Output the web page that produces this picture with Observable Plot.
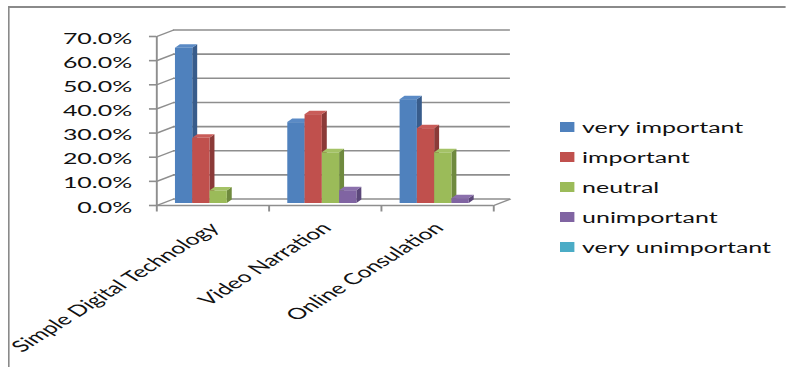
<!DOCTYPE html>
<html>
<head>
<meta charset="utf-8">
<script src="https://cdn.jsdelivr.net/npm/d3@7"></script>
<script src="https://cdn.jsdelivr.net/npm/@observablehq/plot@0.6"></script>
<style>
  html, body { margin: 0; padding: 0; background: #fff; }
  /* the whole drawing is laid out narrow, then widened horizontally */
  #stage { position: absolute; left: 0; top: 0; width: 491.25px; height: 367px;
           transform: scaleX(1.6); transform-origin: 0 0; overflow: hidden; }
  #frame { position: absolute; left: 5.4px; top: 6px; right: -4px; bottom: -4px;
           border-left: 1.5px solid #8a8a8a; border-top: 2px solid #8a8a8a; }
  #chart { position: absolute; left: 0; top: 0; }
  #legend { position: absolute; left: 350px; top: 112px;
            font: 15.6px Lato, sans-serif; color: #111; }
  #legend .item { display: flex; align-items: center; height: 30px; white-space: nowrap; }
  #legend .sw { width: 9.4px; height: 10px; margin-right: 4.4px; flex: none; }
</style>
</head>
<body>
<div id="stage">
  <div id="frame"></div>
  <div id="chart"></div>
  <div id="legend"></div>
</div>
<script>
// Survey answers per service, share of respondents (%)
const categories = ["Simple Digital Technology", "Video Narration", "Online Consulation"];
const series = ["very important", "important", "neutral", "unimportant", "very unimportant"];
const veryImportant   = [64.3, 33.5, 43.0];
const important       = [27.0, 36.8, 31.0];
const neutral         = [5.2, 21.0, 21.0];
const unimportant     = [0, 5.3, 2.0];
const veryUnimportant = [0, 0, 0];
const yTicks = [0, 10, 20, 30, 40, 50, 60, 70];

const frontColors = ["#4F81BD", "#C0504D", "#9BBB59", "#8064A2", "#4BACC6"];
const sideColors  = ["#385C8B", "#8B3A38", "#6F8A3E", "#5B4779", "#33859B"];
const topColors   = ["#5A8AC5", "#C95C59", "#A4C266", "#8B70AC", "#5AB5CD"];

const values = [veryImportant, important, neutral, unimportant, veryUnimportant];

// one row per bar; five slots per category with a 150% gap
const slots = series.length + 1.5;
const bars = [];
categories.forEach((c, ci) => {
  series.forEach((s, si) => {
    const v = values[si][ci];
    if (v > 0) {
      const x1 = ci + (0.75 + si) / slots;
      bars.push({id: `${ci}-${si}`, category: c, series: s, si, value: v, x1, x2: x1 + 1 / slots});
    }
  });
});

// oblique depth of the box walls and of each column (data units)
const depthX = 0.151, depthY = 2.69;
const barDX = 0.044, barDY = 1.45;
const shift = {dx: 3.75, dy: -2};

// side face: parallelogram on the right of each column
const sides = bars.flatMap(b => [
  {id: b.id, si: b.si, x: b.x2, lo: 0, hi: b.value},
  {id: b.id, si: b.si, x: b.x2 + barDX, lo: barDY, hi: b.value + barDY}
]);
// top face: parallelogram above each column
const tops = bars.flatMap(b => [
  {id: b.id, si: b.si, x: b.x1, lo: b.value, hi: b.value},
  {id: b.id, si: b.si, x: b.x1 + barDX, lo: b.value, hi: b.value + barDY},
  {id: b.id, si: b.si, x: b.x2, lo: b.value, hi: b.value + barDY},
  {id: b.id, si: b.si, x: b.x2 + barDX, lo: b.value + barDY, hi: b.value + barDY}
]);

const gridStroke = "#8e8e8e";
const textFill = "#111";
const W = 340, H = 367;

const faceMarks = series.flatMap((s, si) => [
  Plot.areaY(sides.filter(d => d.si === si), {x: "x", y1: "lo", y2: "hi", z: "id", fill: sideColors[si], curve: "linear", ...shift}),
  Plot.areaY(tops.filter(d => d.si === si), {x: "x", y1: "lo", y2: "hi", z: "id", fill: topColors[si], curve: "linear", ...shift})
]);

const plot = Plot.plot({
  width: W,
  height: H,
  marginLeft: 97.5,
  marginRight: W - 308.1,
  marginTop: 36,
  marginBottom: H - 205,
  x: {domain: [0, 3], axis: null, label: null},
  y: {domain: [0, 70], axis: null, label: null},
  color: {domain: series, range: frontColors},
  style: {fontFamily: "Lato, sans-serif", fontSize: "15.6px", color: textFill, background: "transparent", overflow: "visible"},
  marks: [
    // back wall gridlines
    Plot.ruleY(yTicks, {y: d => d + depthY, x1: depthX, x2: 3 + depthX, stroke: gridStroke, strokeWidth: 1.6}),
    // side wall edges from the value axis to the back wall
    Plot.link(yTicks, {x1: 0, y1: d => d, x2: depthX, y2: d => d + depthY, stroke: gridStroke, strokeWidth: 1.3}),
    // floor: front edge and right edge
    Plot.ruleY([0], {x1: 0, x2: 3, stroke: gridStroke, strokeWidth: 1.6}),
    Plot.link([0], {x1: 3, y1: 0, x2: 3 + depthX, y2: depthY, stroke: gridStroke, strokeWidth: 1.3}),
    // value axis line and ticks
    Plot.ruleX([0], {y1: 0, y2: 70, stroke: gridStroke, strokeWidth: 1.2}),
    Plot.axisY(yTicks, {tickSize: 4.4, stroke: gridStroke, strokeWidth: 1.6, tickFormat: () => "", label: null}),
    Plot.axisY(yTicks, {tickSize: 0, tickPadding: 15.4, tickFormat: d => d.toFixed(1) + "%", dy: 2, fill: textFill, label: null}),
    // category separators
    Plot.axisX([0, 1, 2, 3], {tickSize: 6.5, stroke: gridStroke, strokeWidth: 1.2, tickFormat: () => "", label: null}),
    Plot.axisX([0.5, 1.5, 2.5], {tickSize: 0, tickPadding: 20, tickRotate: -45, textAnchor: "end", dx: 1,
      tickFormat: d => categories[Math.floor(d)], fill: textFill, label: null}),
    // columns
    ...faceMarks,
    Plot.rectY(bars, {x1: "x1", x2: "x2", y1: 0, y2: "value", fill: "series", ...shift})
  ]
});

document.getElementById("chart").appendChild(plot);

// legend from the plot's colour scale
const color = plot.scale("color");
d3.select("#legend").selectAll("div")
  .data(color.domain)
  .join("div")
  .attr("class", "item")
  .each(function (d) {
    const row = d3.select(this);
    row.append("span").attr("class", "sw").style("background", color.apply(d));
    row.append("span").text(d);
  });
</script>
</body>
</html>
